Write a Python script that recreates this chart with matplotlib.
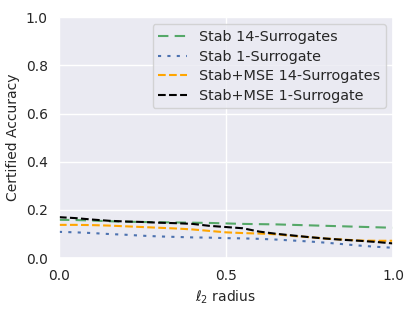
import matplotlib
matplotlib.use("Agg")
import matplotlib.pyplot as plt
import seaborn as sns
import numpy as np

sns.set_theme(style="darkgrid")

radius = np.linspace(0, 1, 21)
stab_14 = [0.159, 0.158, 0.156, 0.153, 0.151, 0.150, 0.149, 0.148, 0.147, 0.146, 0.144,
           0.142, 0.141, 0.140, 0.138, 0.136, 0.134, 0.132, 0.130, 0.128, 0.126]
stab_1 = [0.109, 0.107, 0.104, 0.100, 0.097, 0.093, 0.090, 0.088, 0.086, 0.085, 0.083,
          0.082, 0.080, 0.077, 0.073, 0.069, 0.064, 0.058, 0.052, 0.047, 0.043]
mse_14 = [0.138, 0.138, 0.137, 0.135, 0.132, 0.129, 0.126, 0.123, 0.119, 0.113, 0.107,
          0.104, 0.102, 0.099, 0.092, 0.087, 0.081, 0.077, 0.073, 0.072, 0.072]
mse_1 = [0.170, 0.166, 0.160, 0.155, 0.152, 0.150, 0.147, 0.145, 0.142, 0.134, 0.129,
         0.124, 0.110, 0.101, 0.094, 0.087, 0.081, 0.076, 0.072, 0.067, 0.061]

fig = plt.figure(figsize=(4.15, 3.11), dpi=100)
ax = fig.add_axes([0.142, 0.170, 0.805, 0.775])

ax.plot(radius, stab_14, color="#55a868", linestyle=(0, (5, 3)), lw=1.5, label="Stab 14-Surrogates")
ax.plot(radius, stab_1, color="#4c72b0", linestyle=(0, (1.5, 3)), lw=1.5, label="Stab 1-Surrogate")
ax.plot(radius, mse_14, color="orange", linestyle="--", lw=1.5, label="Stab+MSE 14-Surrogates")
ax.plot(radius, mse_1, color="black", linestyle="--", lw=1.5, label="Stab+MSE 1-Surrogate")

ax.set_xlim(0, 1)
ax.set_ylim(0, 1)
ax.set_xticks([0.0, 0.5, 1.0])
ax.set_yticks([0.0, 0.2, 0.4, 0.6, 0.8, 1.0])
ax.tick_params(labelsize=10, pad=2)
ax.set_xlabel(r"$\ell_2$ radius", fontsize=10)
ax.set_ylabel("Certified Accuracy", fontsize=10)
ax.legend(loc="upper right", fontsize=10.4, labelspacing=0.38)

fig.savefig("out.png", dpi=100)
